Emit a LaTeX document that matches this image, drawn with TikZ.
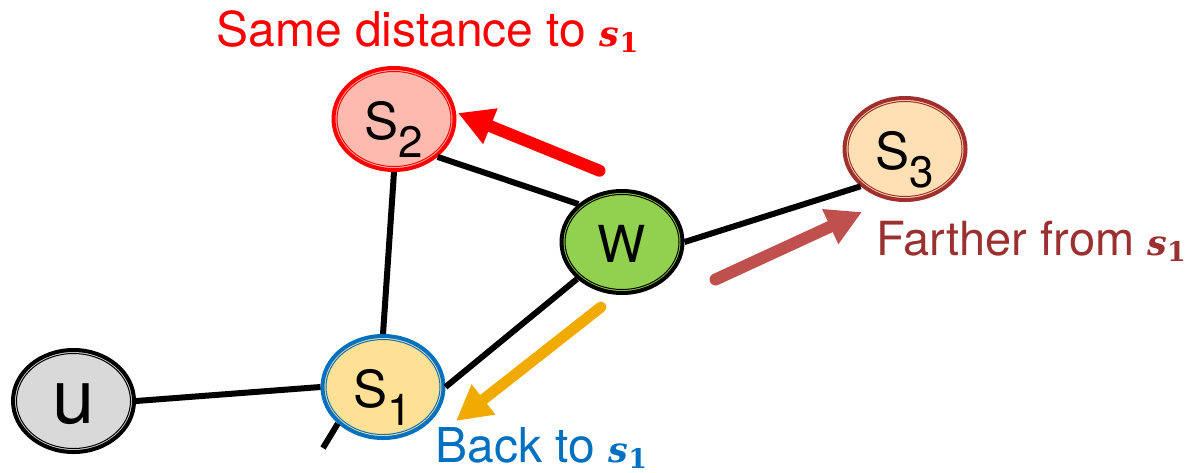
\documentclass[tikz,border=0pt]{standalone}
\usepackage{fontspec}
\setmainfont{TeX Gyre Heros}
\newfontfamily\srf{DejaVu Serif}
\usetikzlibrary{arrows.meta,shapes.geometric}
\definecolor{sredc}{RGB}{255,0,0}
\definecolor{stwofill}{RGB}{255,186,176}
\definecolor{sthreefill}{RGB}{255,224,180}
\definecolor{sthreering}{RGB}{160,48,45}
\definecolor{sonefill}{RGB}{255,225,150}
\definecolor{sonering}{RGB}{0,112,192}
\definecolor{wfill}{RGB}{146,208,80}
\definecolor{ufill}{RGB}{217,217,217}
\definecolor{farred}{RGB}{155,48,48}
\definecolor{fararrow}{RGB}{192,80,77}
\definecolor{orangearr}{RGB}{240,170,0}
\newcommand\sone{{\fontsize{17.5}{17.5}\selectfont\srf\bfseries\itshape s}\raisebox{-3pt}{\fontsize{13.5}{13.5}\selectfont\srf\bfseries 1}}
\newcommand\nlab[1]{\raisebox{-10pt}[0pt][0pt]{#1}}
\newcommand\Ssub[1]{S\raisebox{-9pt}{\fontsize{22}{22}\selectfont #1}}
\begin{document}
\begin{tikzpicture}[x=0.5pt,y=-0.5pt,
  gnode/.style={ellipse, draw, line width=2pt, minimum width=60.5pt, minimum height=51pt, inner sep=0pt, font=\fontsize{25.5}{25.5}\selectfont},
  edge/.style={line width=3pt, black},
  bigarrow/.style={line width=6pt, line cap=round, -{Triangle[length=17.5pt,width=18pt]}},
  lab/.style={anchor=base west, inner sep=0pt, font=\fontsize{24}{24}\selectfont},
  ring/.style={line width=0.5pt}]
\useasboundingbox (0,0) rectangle (1186,472);
% nodes
\node[gnode, fill=stwofill, draw=sredc] (s2) at (394,119) {\nlab{\Ssub{2}}};
\node[gnode, fill=wfill, draw=black] (w) at (622,242) {\nlab{W}};
\node[gnode, fill=sthreefill, draw=sthreering] (s3) at (905,149) {\nlab{\Ssub{3}}};
\node[gnode, fill=sonefill, draw=sonering] (s1) at (383,387) {\nlab{\Ssub{1}}};
\node[gnode, fill=ufill, draw=black] (u) at (73.5,401) {\raisebox{-11pt}[0pt][0pt]{\fontsize{38}{38}\selectfont u}};
% inner rings
\foreach \n/\c in {s2/sredc, w/black, s3/sthreering, s1/sonering, u/black}
  \draw[ring, draw=\c] (\n.center) ellipse [x radius=57, y radius=47.5];
% edges
\draw[edge] (u.east) -- (s1.west);
\draw[edge] (s2.south) -- (s1.north);
\draw[edge] (s2.-41) -- (w.139);
\draw[edge] (w) -- (s1.east);
\draw[edge] (w.east) -- (s3.220);
\coordinate (stub) at (323,448);
\draw[edge] (s1.219) -- (stub);
% arrows
\coordinate (ra1) at (599.5,170.7); \coordinate (ra2) at (458,113);
\draw[bigarrow, color=sredc] (ra1) -- (ra2);
\coordinate (da1) at (715.5,279.5); \coordinate (da2) at (862,212);
\draw[bigarrow, color=fararrow] (da1) -- (da2);
\coordinate (oa1) at (601,307); \coordinate (oa2) at (456,421);
\draw[bigarrow, color=orangearr, line width=5.5pt] (oa1) -- (oa2);
% labels
\node[lab, text=sredc] (t1) at (216,46) {Same distance to \sone};
\node[lab, text=farred, font=\fontsize{23.5}{23.5}\selectfont] (t2) at (876,255) {Farther from \sone};
\node[lab, text=sonering] (t3) at (435,462) {Back to \sone};
\end{tikzpicture}
\end{document}
